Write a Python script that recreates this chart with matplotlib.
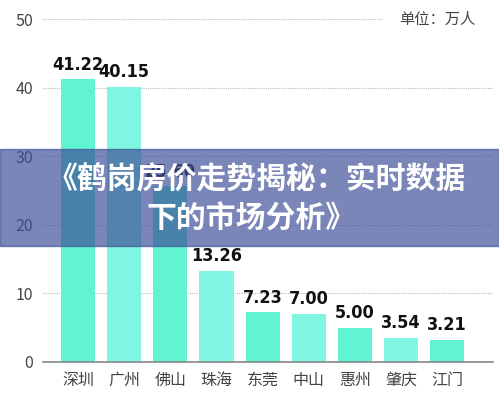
import matplotlib.pyplot as plt
import numpy as np
from matplotlib.patches import Rectangle

plt.rcParams['font.family'] = ['Noto Sans CJK SC', 'DejaVu Sans']
plt.rcParams['axes.unicode_minus'] = False

# 数据
cities = ['深圳', '广州', '佛山', '珠海', '东莞', '中山', '惠州', '肇庆', '江门']
values = [41.22, 40.15, 25.60, 13.26, 7.23, 7.00, 5.00, 3.54, 3.21]
y_ticks = [0, 10, 20, 30, 40, 50]
title_line1 = '《鹤岗房价走势揭秘：实时数据'
title_line2 = '下的市场分析》'
unit_text = '单位：万人'

bar_colors = ['#62F3D3', '#80F6E2']

fig = plt.figure(figsize=(4.99, 3.98), dpi=100)
ax = fig.add_axes([0.086, 0.0905, 0.902, 0.8615])

x = np.arange(len(cities))
bars = ax.bar(x, values, width=0.74,
              color=[bar_colors[i % 2] for i in range(len(cities))], zorder=3)

# 柱顶数值
for b, v in zip(bars, values):
    ax.annotate('%.2f' % v, xy=(b.get_x() + b.get_width() / 2, v),
                xytext=(0, 4), textcoords='offset points',
                ha='center', va='bottom', fontsize=13, fontweight='bold',
                family='DejaVu Sans', fontstretch='condensed',
                color='#111111', zorder=4)

# 网格线（50那条短一点，给单位留位置）
for t in y_ticks[1:]:
    xmax = 0.756 if t == 50 else 1.0
    ax.axhline(t, xmin=0, xmax=xmax, color='#bbbbbb', lw=0.8,
               linestyle=(0, (1, 1)), zorder=1)

ax.set_xlim(-0.76, 8.99)
ax.set_ylim(0, 50)
ax.set_yticks(y_ticks)
ax.set_xticks(x)
ax.set_xticklabels(cities)
ax.tick_params(axis='both', length=0, labelsize=11.5, labelcolor='#444444')
ax.tick_params(axis='y', pad=7)
ax.tick_params(axis='x', pad=7)
for s in ['top', 'right', 'left']:
    ax.spines[s].set_visible(False)
ax.spines['bottom'].set_color('#888888')
ax.spines['bottom'].set_linewidth(1.2)
ax.spines['bottom'].set_zorder(5)

fig.text(475 / 499, 1 - 19 / 398, unit_text, ha='right', va='center',
         fontsize=11, color='#444444')

# 标题横幅
fig.patches.append(Rectangle((0, 1 - 246 / 398), 1, 97 / 398,
                             transform=fig.transFigure, color='#3d4d97',
                             alpha=0.68, zorder=10))
fig.text(257 / 499, 1 - 180 / 398, title_line1, ha='center', va='center',
         fontsize=21.5, fontweight='black', color='white', zorder=11)
fig.text(251 / 499, 1 - 219 / 398, title_line2, ha='center', va='center',
         fontsize=21.5, fontweight='black', color='white', zorder=11)

plt.savefig('out.png', dpi=100)
